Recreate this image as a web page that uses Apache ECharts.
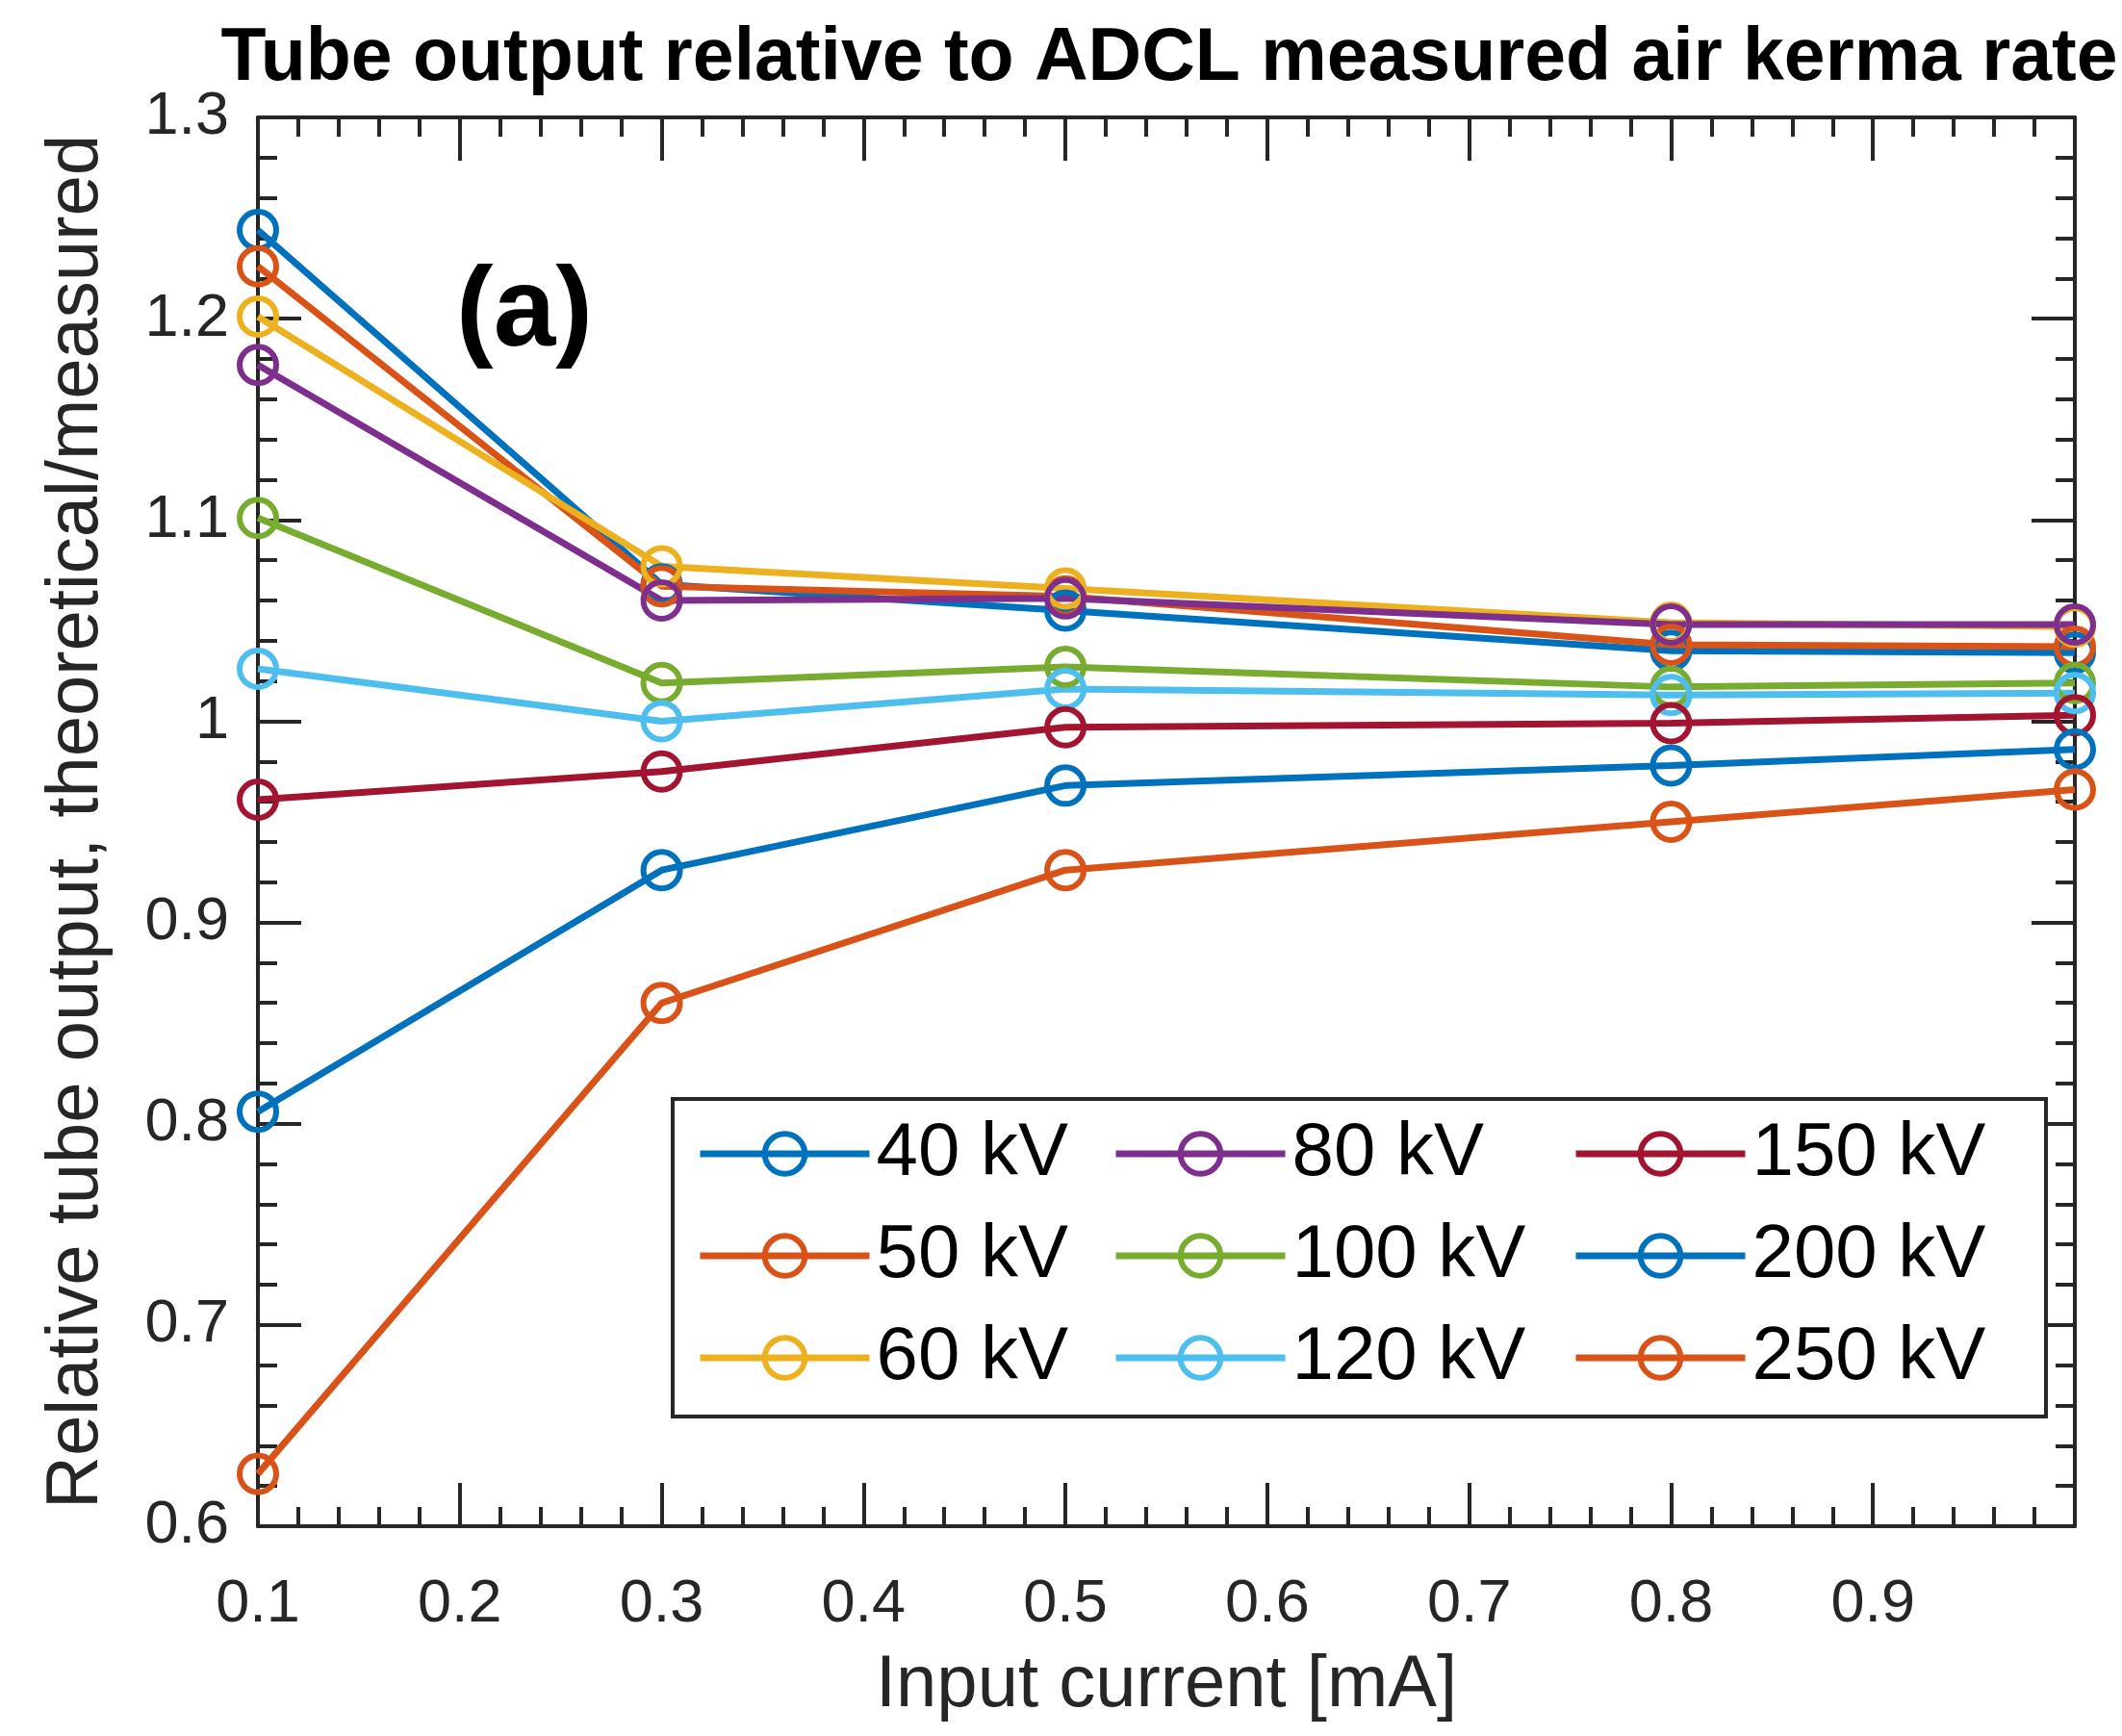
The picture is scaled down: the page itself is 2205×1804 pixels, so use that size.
<!DOCTYPE html>
<html>
<head>
<meta charset="utf-8">
<script src="https://cdn.jsdelivr.net/npm/echarts@6/dist/echarts.min.js"></script>
<style>
  html, body { margin: 0; padding: 0; background: #fff; }
  #chart { width: 2205px; height: 1804px; }
</style>
</head>
<body>
<div id="chart"></div>
<script>
// input current [mA]
const currents = [0.1, 0.3, 0.5, 0.8, 1.0];

// relative tube output (theoretical / measured) per tube voltage
const kv40  = [1.244, 1.068, 1.055, 1.035, 1.034];
const kv50  = [1.226, 1.067, 1.062, 1.038, 1.037];
const kv60  = [1.201, 1.077, 1.066, 1.049, 1.047];
const kv80  = [1.177, 1.060, 1.061, 1.048, 1.048];
const kv100 = [1.101, 1.019, 1.027, 1.017, 1.019];
const kv120 = [1.026, 1.000, 1.016, 1.013, 1.014];
const kv150 = [0.961, 0.975, 0.997, 0.999, 1.003];
const kv200 = [0.806, 0.926, 0.968, 0.978, 0.986];
const kv250 = [0.626, 0.860, 0.926, 0.950, 0.966];

const names = ['40 kV', '50 kV', '60 kV', '80 kV', '100 kV', '120 kV', '150 kV', '200 kV', '250 kV'];
const values = [kv40, kv50, kv60, kv80, kv100, kv120, kv150, kv200, kv250];
const colors = ['#0072BD', '#D95319', '#EDB120', '#7E2F8E', '#77AC30', '#4DBEEE', '#A2142F', '#0072BD', '#D95319'];

const font = '"Liberation Sans", Arial, Helvetica, sans-serif';
const axisColor = '#262626';

const series = names.map((n, i) => ({
    name: n,
    type: 'line',
    data: currents.map((x, j) => [x, values[i][j]]),
    symbol: 'circle',
    symbolSize: 38,
    lineStyle: { color: colors[i], width: 7 },
    itemStyle: { color: 'rgba(255,255,255,0)', borderColor: colors[i], borderWidth: 6 },
    emphasis: { disabled: true },
    z: 2
}));

function boxAxis(extra) {
    return Object.assign({
        type: 'value',
        axisLine: { show: true, onZero: false, lineStyle: { color: axisColor, width: 4 } },
        axisTick: { show: true, inside: true, length: 45, lineStyle: { color: axisColor, width: 4 } },
        minorTick: { show: true, splitNumber: 5, length: 20, lineStyle: { color: axisColor, width: 4 } },
        splitLine: { show: false },
        minorSplitLine: { show: false }
    }, extra);
}

const legendItem = (list, left) => ({
    data: list,
    orient: 'vertical',
    left: left,
    top: 1160,
    padding: 0,
    itemWidth: 176,
    itemHeight: 52,
    itemGap: 28,
    selectedMode: false,
    lineStyle: { width: 7 },
    itemStyle: { borderWidth: 6 },
    textStyle: { fontFamily: font, fontSize: 78, color: '#000', lineHeight: 78, padding: [0, 0, 0, 2] }
});

const option = {
    backgroundColor: '#fff',
    animation: false,
    title: {
        text: 'Tube output relative to ADCL measured air kerma rate',
        left: 1210,
        top: 18,
        textAlign: 'center',
        textStyle: { fontFamily: font, fontSize: 77, fontWeight: 'bold', color: '#000' }
    },
    grid: { left: 268, top: 122, width: 1888, height: 1464 },
    xAxis: [
        boxAxis({
            min: 0.1, max: 1.0, interval: 0.1,
            name: 'Input current [mA]',
            nameLocation: 'middle',
            nameGap: 128,
            nameTextStyle: { fontFamily: font, fontSize: 76, color: axisColor },
            axisLabel: {
                margin: 50, fontFamily: font, fontSize: 63, color: axisColor,
                formatter: v => (Math.abs(v - 1) < 1e-9 ? '' : String(Math.round(v * 10) / 10))
            }
        }),
        boxAxis({ min: 0.1, max: 1.0, interval: 0.1, position: 'top', axisLabel: { show: false } })
    ],
    yAxis: [
        boxAxis({
            min: 0.6, max: 1.3, interval: 0.1,
            name: 'Relative tube output, theoretical/measured',
            nameLocation: 'middle',
            nameGap: 150,
            nameTextStyle: { fontFamily: font, fontSize: 76, color: axisColor },
            axisLabel: {
                margin: 30, fontFamily: font, fontSize: 63, color: axisColor,
                formatter: v => String(Math.round(v * 10) / 10)
            }
        }),
        boxAxis({ min: 0.6, max: 1.3, interval: 0.1, position: 'right', axisLabel: { show: false } })
    ],
    legend: [
        legendItem(names.slice(0, 3), 724),
        legendItem(names.slice(3, 6), 1156),
        legendItem(names.slice(6, 9), 1634)
    ],
    graphic: [
        {
            type: 'rect',
            z: 3,
            shape: { x: 699, y: 1142, width: 1427, height: 330 },
            style: { fill: '#fff', stroke: axisColor, lineWidth: 4 }
        },
        {
            type: 'text',
            z: 3,
            x: 545, y: 327,
            style: {
                text: '(a)',
                font: 'bold 116px ' + font,
                fill: '#000',
                textAlign: 'center',
                textVerticalAlign: 'middle'
            }
        }
    ],
    series: series
};

const chart = echarts.init(document.getElementById('chart'));
chart.setOption(option);
</script>
</body>
</html>
